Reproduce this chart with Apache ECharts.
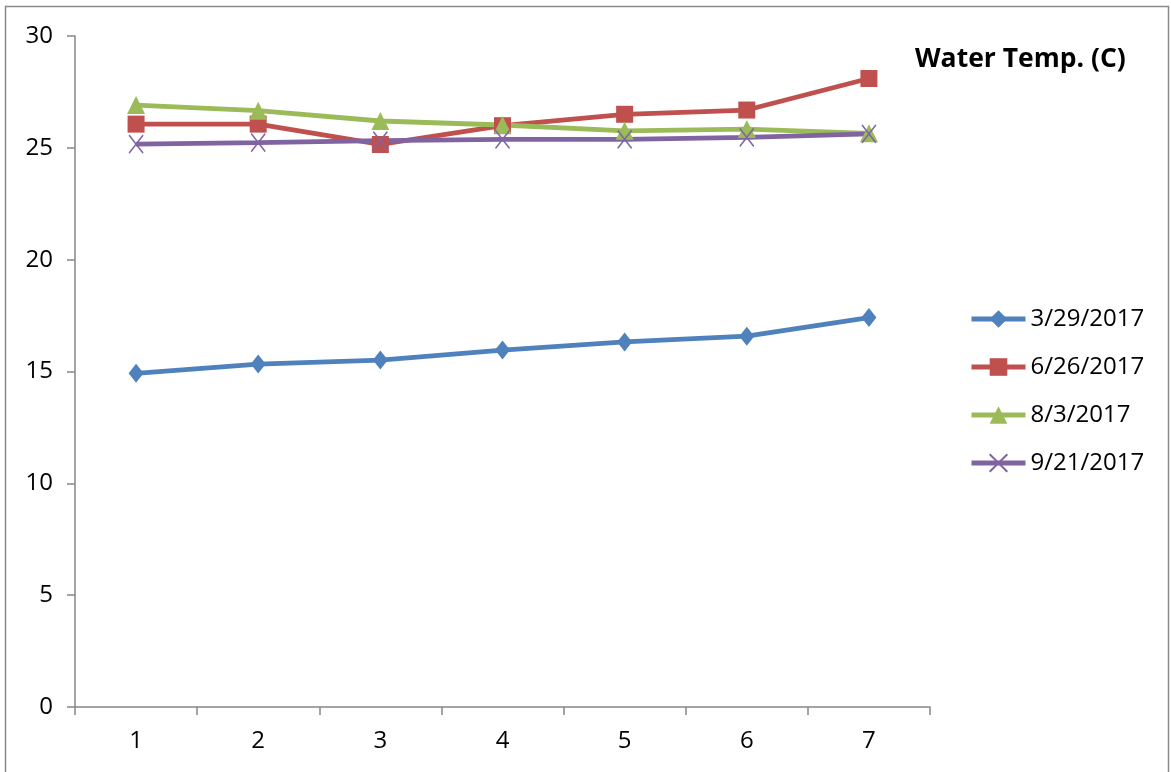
<!DOCTYPE html>
<html><head><meta charset="utf-8">
<script src="https://cdn.jsdelivr.net/npm/echarts@6/dist/echarts.min.js"></script>
<style>html,body{margin:0;padding:0;background:#fff}#c{width:1171px;height:772px}</style>
</head><body><div id="c"></div>
<script>
const categories = ['1','2','3','4','5','6','7'];
const seriesNames = ['3/29/2017','6/26/2017','8/3/2017','9/21/2017'];
const s1 = [14.92, 15.33, 15.51, 15.96, 16.32, 16.58, 17.41];
const s2 = [26.06, 26.06, 25.15, 25.99, 26.50, 26.69, 28.10];
const s3 = [26.91, 26.66, 26.20, 26.02, 25.76, 25.84, 25.65];
const s4 = [25.17, 25.23, 25.32, 25.38, 25.38, 25.47, 25.62];
const yTicks = [0, 5, 10, 15, 20, 25, 30];
const titleText = 'Water Temp. (C)';

const FONT = 'Open Sans';
const chart = echarts.init(document.getElementById('c'));
const axisGray = '#868686';
function mk(name, data, color, symbol, size, extra) {
  return Object.assign({
    name, type: 'line', data, symbol, symbolSize: size,
    lineStyle: { color, width: 4.8 },
    itemStyle: { color },
    emphasis: { disabled: true },
    animation: false
  }, extra || {});
}
chart.setOption({
  animation: false,
  textStyle: { fontFamily: FONT },
  title: {
    text: titleText, left: 910, top: 41,
    textStyle: { fontFamily: FONT, fontWeight: 'bold', fontSize: 26.5, color: '#000' }
  },
  graphic: [{
    type: 'rect', shape: { x: 5.5, y: 6.5, width: 1163, height: 800 },
    style: { fill: 'none', stroke: '#8a8a8a', lineWidth: 1.5 }, silent: true
  }],
  legend: {
    orient: 'vertical', left: 964, top: 302,
    itemWidth: 54, itemHeight: 22, itemGap: 24,
    lineStyle: { width: 5 },
    textStyle: { fontFamily: FONT, fontSize: 24, color: '#000', lineHeight: 24 },
    data: seriesNames
  },
  grid: { left: 75, right: 241, top: 36, bottom: 65, containLabel: false },
  xAxis: {
    type: 'category', data: categories, boundaryGap: true,
    axisLine: { lineStyle: { color: axisGray, width: 1.5 } },
    axisTick: { show: true, length: 8, lineStyle: { color: axisGray, width: 1.5 } },
    axisLabel: { fontFamily: FONT, fontSize: 24, color: '#000', margin: 22 },
    splitLine: { show: false }
  },
  yAxis: {
    type: 'value', min: yTicks[0], max: yTicks[yTicks.length - 1], interval: 5,
    axisLine: { show: true, lineStyle: { color: axisGray, width: 1.5 } },
    axisTick: { show: true, length: 8, lineStyle: { color: axisGray, width: 1.5 } },
    axisLabel: { fontFamily: FONT, fontSize: 24, color: '#000', margin: 22 },
    splitLine: { show: false }
  },
  series: [
    mk(seriesNames[0], s1, '#4F81BD', 'diamond', [15, 19]),
    mk(seriesNames[1], s2, '#C0504D', 'rect', 17),
    mk(seriesNames[2], s3, '#9BBB59', 'triangle', 18),
    mk(seriesNames[3], s4, '#8064A2', 'path://M0,0L10,10M10,0L0,10', [14, 18], {
      itemStyle: { color: '#8064A2', borderColor: '#8064A2', borderWidth: 1.6 }
    })
  ]
});
</script></body></html>
